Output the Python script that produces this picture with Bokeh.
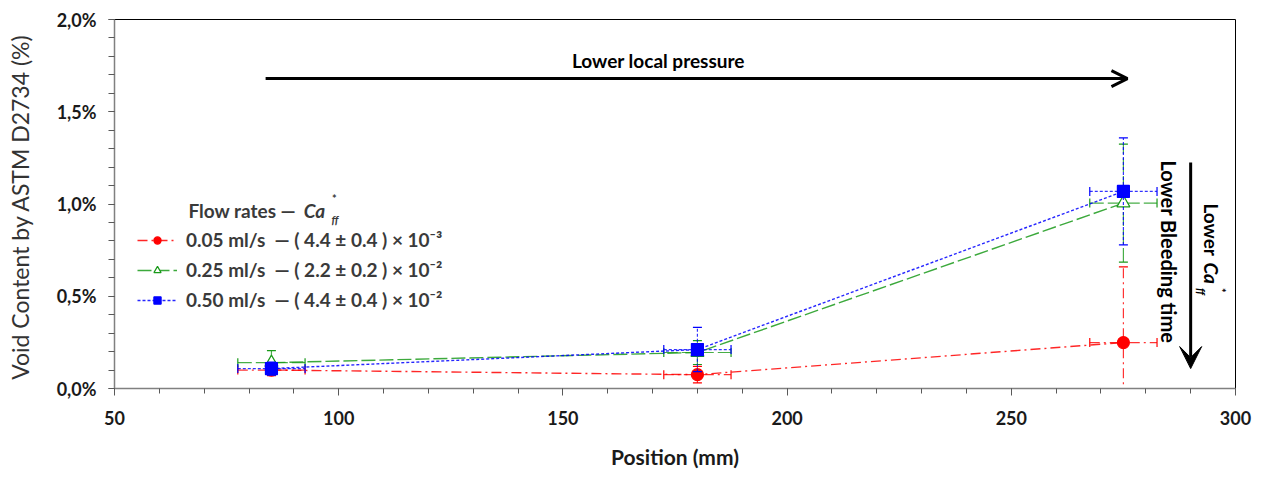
import math
from bokeh.plotting import figure
from bokeh.models import (Legend, LegendItem, Label, Arrow, OpenHead, VeeHead,
                          ColumnDataSource, Range1d, FixedTicker)
from bokeh.embed import file_html
from bokeh.resources import INLINE

# ---------------- data ----------------
positions = [85, 180, 275]
pos_err = [7.5, 7.5, 7.5]

void_005 = [0.100, 0.075, 0.249]
err_005 = [0.030, 0.045, 0.410]

void_025 = [0.140, 0.195, 1.005]
err_025 = [0.065, 0.065, 0.320]

void_050 = [0.108, 0.211, 1.068]
err_050 = [0.035, 0.120, 0.290]

x_ticks = [50, 100, 150, 200, 250, 300]
y_ticks = [0.0, 0.5, 1.0, 1.5, 2.0]
y_tick_labels = ["0,0%", "0,5%", "1,0%", "1,5%", "2,0%"]

legend_labels = [
    "0.05 ml/s  \u2014 ( 4.4 \u00b1 0.4 ) \u00d7 10\u207b\u00b3",
    "0.25 ml/s  \u2014 ( 2.2 \u00b1 0.2 ) \u00d7 10\u207b\u00b2",
    "0.50 ml/s  \u2014 ( 4.4 \u00b1 0.4 ) \u00d7 10\u207b\u00b2",
]

FONT = "Lato"
TXT = "#3a3a3a"

p = figure(width=1261, height=477, x_range=Range1d(50, 300), y_range=Range1d(0, 2.0),
           output_backend="svg", toolbar_location=None,
           min_border_left=114, min_border_right=26, min_border_top=19, min_border_bottom=89)
p.xgrid.visible = False
p.ygrid.visible = False
p.outline_line_color = "black"
p.outline_line_width = 1
p.background_fill_color = "white"
p.border_fill_color = "white"

# axes
p.xaxis.ticker = FixedTicker(ticks=x_ticks, minor_ticks=list(range(50, 301, 10)))
p.yaxis.ticker = FixedTicker(ticks=y_ticks, minor_ticks=[i / 10 for i in range(0, 21)])
p.yaxis.major_label_overrides = {t: l for t, l in zip(y_ticks, y_tick_labels)}
for ax in (p.xaxis[0], p.yaxis[0]):
    ax.axis_line_color = "#808080"
    ax.axis_line_width = 1.5
    ax.major_tick_line_color = "#595959"
    ax.minor_tick_line_color = "#595959"
    ax.major_tick_in = 0
    ax.minor_tick_in = 0
    ax.major_label_text_font = FONT
    ax.major_label_text_font_style = "bold"
    ax.major_label_text_font_size = "18px"
    ax.major_label_text_color = "#1a1a1a"
    ax.axis_label_text_font = FONT
    ax.axis_label_text_color = TXT
p.xaxis.major_tick_out = 7
p.xaxis.minor_tick_out = 5
p.yaxis.major_tick_out = 6
p.yaxis.minor_tick_out = 6
p.xaxis.major_label_standoff = 15
p.yaxis.major_label_standoff = 12

p.xaxis.axis_label = "Position (mm)"
p.xaxis.axis_label_text_font_style = "bold"
p.xaxis.axis_label_text_font_size = "21px"
p.xaxis.axis_label_text_color = "#1a1a1a"
p.xaxis.axis_label_standoff = 16

p.yaxis.axis_label = "Void Content by ASTM  D2734 (%)"
p.yaxis.axis_label_text_font_style = "normal"
p.yaxis.axis_label_text_font_size = "23px"
p.yaxis.axis_label_text_color = "#333333"
p.yaxis.axis_label_standoff = 20

series = [
    (void_005, err_005, "#ff0000", "10 4 2 4", "circle", 12, "#ff0000"),
    (void_025, err_025, "#1a9a1a", "14 4", "triangle", 13, "white"),
    (void_050, err_050, "#0000ff", "3 2", "square", 12, "#0000ff"),
]

items = []
for (vals, errs, col, dash, mk, sz, fill), lab in zip(series, legend_labels):
    src = ColumnDataSource(dict(
        x=positions, y=vals,
        ylo=[v - e for v, e in zip(vals, errs)],
        yhi=[v + e for v, e in zip(vals, errs)],
        xlo=[x - e for x, e in zip(positions, pos_err)],
        xhi=[x + e for x, e in zip(positions, pos_err)],
    ))
    p.segment(x0="x", y0="ylo", x1="x", y1="yhi", source=src, line_color=col,
              line_dash=dash, line_width=1.2, line_alpha=0.8)
    p.segment(x0="xlo", y0="y", x1="xhi", y1="y", source=src, line_color=col,
              line_dash=dash, line_width=1.2, line_alpha=0.8)
    p.scatter(x="x", y="ylo", source=src, marker="dash", size=9, line_color=col, line_width=1.2)
    p.scatter(x="x", y="yhi", source=src, marker="dash", size=9, line_color=col, line_width=1.2)
    p.scatter(x="xlo", y="y", source=src, marker="dash", angle=math.pi / 2, size=9,
              line_color=col, line_width=1.2)
    p.scatter(x="xhi", y="y", source=src, marker="dash", angle=math.pi / 2, size=9,
              line_color=col, line_width=1.2)
    ln = p.line(x="x", y="y", source=src, line_color=col, line_dash=dash,
                line_width=1.4, line_alpha=0.85)
    sc = p.scatter(x="x", y="y", source=src, marker=mk, size=sz, fill_color=fill,
                   line_color=col, line_width=1.2)
    items.append(LegendItem(label=lab, renderers=[ln, sc]))

legend = Legend(items=items, location=(23, 77), orientation="vertical",
                glyph_width=40, glyph_height=18, label_height=18, spacing=7,
                label_standoff=9, padding=0, margin=0,
                border_line_alpha=0, background_fill_alpha=0,
                label_text_font=FONT, label_text_font_style="bold",
                label_text_font_size="19px", label_text_color=TXT)
p.add_layout(legend, "center")


def lab(text, x, y, size="19px", style="bold", color=TXT, angle=0.0,
        align="left", baseline="middle"):
    p.add_layout(Label(x=x, y=y, text=text, angle=angle, text_align=align,
                       text_baseline=baseline, text_font=FONT,
                       text_font_style=style, text_font_size=size, text_color=color))


# legend title
lab("Flow rates \u2014 ", 66.5, 0.965)
lab("Ca", 92.2, 0.965, style="bold italic")
lab("*", 98.5, 1.03, size="11px")
lab("ff", 98.4, 0.915, size="11px", style="bold italic")

# arrows & annotations
p.add_layout(Arrow(x_start=83.7, y_start=1.680, x_end=275.9, y_end=1.680,
                   line_width=3, line_color="black",
                   end=OpenHead(size=16, line_width=3, line_color="black")))
lab("Lower local pressure", 171.3, 1.778, size="19px", align="center", color="black")

p.add_layout(Arrow(x_start=290.0, y_start=1.225, x_end=290.0, y_end=0.108,
                   line_width=3, line_color="black",
                   end=VeeHead(size=22, fill_color="black", line_color="black")))
down = -math.pi / 2
lab("Lower Bleeding time", 285.1, 1.236, size="20px", angle=down, color="black")
lab("Lower ", 294.6, 1.003, size="19px", angle=down, color="black")
lab("Ca", 294.6, 0.683, size="19px", angle=down, style="bold italic", color="black")
lab("*", 296.9, 0.545, angle=down, size="11px", color="black")
lab("ff", 292.4, 0.545, angle=down, size="11px", style="bold italic", color="black")

open("out.html", "w").write(file_html(p, INLINE))
